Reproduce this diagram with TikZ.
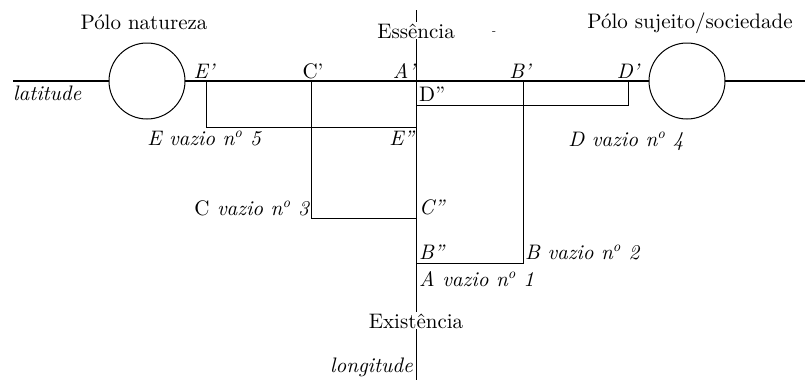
\documentclass[tikz,border=0pt]{standalone}
\usepackage{fontspec}
\setmainfont{lmroman10}[Extension=.otf, UprightFont=*-regular, ItalicFont=*-italic, BoldFont=*-bold]
\usepackage{tikz}
\usetikzlibrary{positioning}

\begin{document}
\begin{tikzpicture}[
  x=1pt, y=-1pt,
  pole/.style={circle, draw, fill=white, minimum size=76pt, inner sep=0pt, line width=1pt},
  rule/.style={line width=1pt},
  lbl/.style={font=\fontsize{21}{25}\selectfont\itshape, inner sep=0pt},
  rlbl/.style={font=\fontsize{21}{25}\selectfont, inner sep=0pt},
]
  \useasboundingbox (0,0) rectangle (805,380);

  \coordinate (latW) at (13,81);
  \coordinate (latE) at (805,81);
  \coordinate (essTop) at (416,10);
  \coordinate (lonBot) at (416,380);

  \coordinate (Ep) at (206,81);
  \coordinate (Cp) at (311,81);
  \coordinate (Ap) at (416,81);
  \coordinate (Bp) at (523,81);
  \coordinate (Dp) at (628,81);

  \coordinate (Ecorner) at (206,127);
  \coordinate (Epp) at (416,127);
  \coordinate (Dcorner) at (628,105);
  \coordinate (Dpp) at (416,105);
  \coordinate (Ccorner) at (311,218);
  \coordinate (Cpp) at (416,218);
  \coordinate (Bcorner) at (523,263);
  \coordinate (Bpp) at (416,263);

  \draw[rule] (essTop) -- (lonBot);
  \draw[rule, line width=1.2pt] (latW) -- (latE);
  \node[pole] (natureza) at (147,81) {};
  \node[pole] (sujeito) at (687,81) {};

  \draw[rule] (Ep) -- (Ecorner) -- (Epp);
  \draw[rule] (Dp) -- (Dcorner) -- (Dpp);
  \draw[rule] (Cp) -- (Ccorner) -- (Cpp);
  \draw[rule] (Bp) -- (Bcorner) -- (Bpp);

  \node[rlbl, anchor=base] (polN) at (144,29) {Pólo natureza};
  \node[rlbl, anchor=base] (polS) at (690,28) {Pólo sujeito/sociedade};
  \node[rlbl, anchor=base, fill=white, inner sep=1pt] (ess) at (416,38) {Essência};
  \node[rlbl, font=\fontsize{12}{14}\selectfont, anchor=base] (mark) at (494,34) {-};
  \node[rlbl, anchor=base, fill=white, inner sep=1pt] (exi) at (416,328) {Existência};
  \node[lbl, anchor=base west] (lat) at (13,100) {latitude};
  \node[lbl, anchor=base east] (lon) at (413,372) {longitude};

  \node[lbl, anchor=base] (lEp) at (204,78) {E'};
  \node[rlbl, anchor=base] (lCp) at (313,78) {C'};
  \node[lbl, anchor=base east] (lAp) at (415,78) {A'};
  \node[lbl, anchor=base] (lBp) at (520,78) {B'};
  \node[lbl, anchor=base] (lDp) at (628,78) {D'};

  \node[rlbl, anchor=base west] (lDpp) at (419,101) {D''};
  \node[lbl, anchor=base east] (lEpp) at (414,145) {E''};
  \node[lbl, anchor=base west] (lCpp) at (419,214) {C''};
  \node[lbl, anchor=base west] (lBpp) at (419,259) {B''};

  \node[lbl, anchor=base] (vazE) at (204,145) {E vazio n\textsuperscript{o} 5};
  \node[lbl, anchor=base] (vazD) at (626,146) {D vazio n\textsuperscript{o} 4};
  \node[lbl, anchor=base east] (vazC) at (309,215) {\textup{C} vazio n\textsuperscript{o} 3};
  \node[lbl, anchor=base west] (vazB) at (525,259) {B vazio n\textsuperscript{o} 2};
  \node[lbl, anchor=base west] (vazA) at (419,286) {A vazio n\textsuperscript{o} 1};
\end{tikzpicture}
\end{document}
